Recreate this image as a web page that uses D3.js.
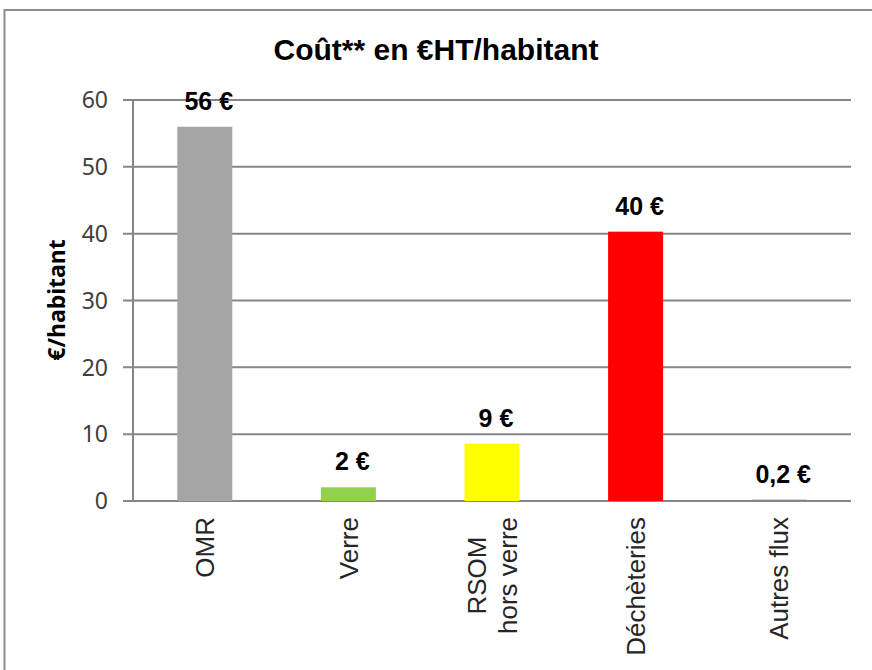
<!DOCTYPE html>
<html>
<head>
<meta charset="utf-8">
<script src="https://cdn.jsdelivr.net/npm/d3@7"></script>
<style>
  body { margin: 0; background: #fff; }
  svg { display: block; }
</style>
</head>
<body>
<div id="chart"></div>
<script>
const categories = ["OMR", "Verre", "RSOM\nhors verre", "Déchèteries", "Autres flux"];
const values = [56, 2.05, 8.6, 40.3, 0.2];
const valueLabels = ["56 €", "2 €", "9 €", "40 €", "0,2 €"];
const barColors = ["#a5a5a5", "#92d050", "#ffff00", "#ff0000", "#868686"];
const yTicks = [0, 10, 20, 30, 40, 50, 60];

const W = 872, H = 670;
const plot = { left: 133, right: 851, top: 100, bottom: 501 };
const GRID = "#868686";

const svg = d3.select("#chart").append("svg")
    .attr("width", W)
    .attr("height", H);

// outer chart frame (runs off the right and bottom edges)
svg.append("rect")
    .attr("x", 4.5).attr("y", 10)
    .attr("width", 920).attr("height", 720)
    .attr("fill", "none")
    .attr("stroke", "#8c8c8c")
    .attr("stroke-width", 2);

svg.append("text")
    .attr("x", 436).attr("y", 60)
    .attr("text-anchor", "middle")
    .style("font-family", "'Liberation Sans', Arial, sans-serif")
    .style("font-weight", "bold")
    .style("font-size", "30px")
    .text("Coût** en €HT/habitant");

const y = d3.scaleLinear().domain([0, 60]).range([plot.bottom, plot.top]);
const x = d3.scaleBand()
    .domain(categories)
    .range([plot.left, plot.right])
    .paddingInner(0.617)
    .paddingOuter(0.3085);

// gridlines + ticks
svg.append("g")
    .selectAll("line")
    .data(yTicks)
    .enter()
    .append("line")
    .attr("x1", plot.left - 10)
    .attr("x2", plot.right)
    .attr("y1", d => y(d))
    .attr("y2", d => y(d))
    .attr("stroke", GRID)
    .attr("stroke-width", 2);

svg.append("line")
    .attr("x1", plot.left).attr("x2", plot.left)
    .attr("y1", plot.top).attr("y2", plot.bottom)
    .attr("stroke", GRID)
    .attr("stroke-width", 2);

svg.append("g")
    .selectAll("text")
    .data(yTicks)
    .enter()
    .append("text")
    .attr("x", 108)
    .attr("y", d => y(d))
    .attr("dy", "0.357em")
    .attr("text-anchor", "end")
    .attr("fill", "#404040")
    .style("font-family", "'Noto Sans', sans-serif")
    .style("font-size", "23px")
    .text(d => d);

svg.append("text")
    .attr("transform", "translate(57,300) rotate(-90)")
    .attr("dy", "0.35em")
    .attr("text-anchor", "middle")
    .style("font-family", "'Noto Sans', sans-serif")
    .style("font-weight", "bold")
    .style("font-size", "23px")
    .text("€/habitant");

// bars
svg.append("g")
    .selectAll("rect")
    .data(values)
    .enter()
    .append("rect")
    .attr("x", (d, i) => x(categories[i]))
    .attr("width", x.bandwidth())
    .attr("y", d => y(d))
    .attr("height", d => y(0) - y(d))
    .attr("fill", (d, i) => barColors[i]);

// value labels
svg.append("g")
    .selectAll("text")
    .data(values)
    .enter()
    .append("text")
    .attr("x", (d, i) => x(categories[i]) + x.bandwidth() / 2 + 4)
    .attr("y", d => y(d) - 17)
    .attr("text-anchor", "middle")
    .style("font-family", "'Liberation Sans', Arial, sans-serif")
    .style("font-weight", "bold")
    .style("font-size", "25px")
    .text((d, i) => valueLabels[i]);

// category labels, rotated, each block starting just under the axis
const lineH = 31;
const catG = svg.append("g")
    .selectAll("g")
    .data(categories)
    .enter()
    .append("g");

catG.each(function (d) {
    const g = d3.select(this);
    const lines = d.split("\n");
    const cx = x(d) + x.bandwidth() / 2;
    const t = g.append("text")
        .attr("text-anchor", "middle")
        .attr("fill", "#262626")
        .style("font-family", "'Liberation Sans', Arial, sans-serif")
        .style("font-size", "26px");
    t.selectAll("tspan")
        .data(lines)
        .enter()
        .append("tspan")
        .attr("x", 0)
        .attr("y", (l, i) => (i - (lines.length - 1) / 2) * lineH)
        .attr("dy", "0.35em")
        .text(l => l);
    let maxLen = 0;
    t.selectAll("tspan").each(function () {
        maxLen = Math.max(maxLen, this.getComputedTextLength());
    });
    t.attr("transform", `translate(${cx},${517 + maxLen / 2}) rotate(-90)`);
});
</script>
</body>
</html>
